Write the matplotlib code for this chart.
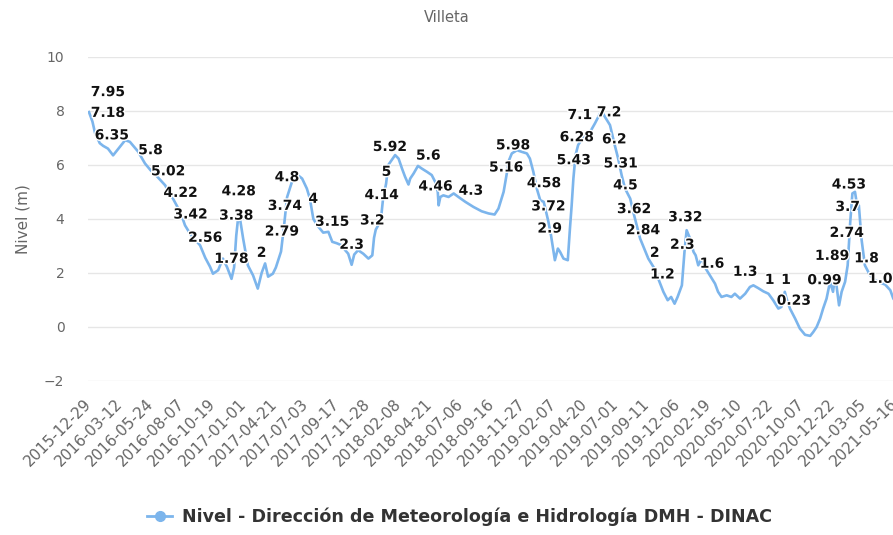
"""
Nivel del rio Paraguay en Villeta (DMH - DINAC), 2015-2021
"""

### Import modules
import matplotlib
matplotlib.use('Agg')
import matplotlib.pyplot as plt
import matplotlib.patheffects as pe
import matplotlib.transforms as mtrans
from matplotlib.lines import Line2D

### Tick labels (one every 72 records)
fechas = ['2015-12-29', '2016-03-12', '2016-05-24', '2016-08-07', '2016-10-19',
          '2017-01-01', '2017-04-21', '2017-07-03', '2017-09-17', '2017-11-28',
          '2018-02-08', '2018-04-21', '2018-07-06', '2018-09-16', '2018-11-27',
          '2019-02-07', '2019-04-20', '2019-07-01', '2019-09-11', '2019-12-06',
          '2020-02-19', '2020-05-10', '2020-07-22', '2020-10-07', '2020-12-22',
          '2021-03-05', '2021-05-16']
paso = 72
tick_idx = [i * paso for i in range(len(fechas))]

### Series: record index and level (m)
idx = [0, 8, 14, 25, 33, 44, 56, 72, 84, 95, 114, 130, 143, 158, 177, 184,
       195, 213, 223, 236, 258, 270, 281, 288, 300, 311, 321, 331, 337, 342,
       348, 358, 369, 381, 392, 401, 409, 416, 427, 434, 446, 453, 460, 471,
       485, 495, 506, 513, 521, 530, 544, 556, 565, 575, 587, 595, 602, 610,
       616, 625, 637, 649, 658, 662, 666, 673, 679, 683, 690, 695, 711, 719,
       727, 734, 742, 746, 754, 764, 773, 785, 796, 804, 810, 812, 816, 823,
       835, 847, 858, 874, 893, 912, 928, 942, 951, 963, 971, 974, 982, 994,
       1005, 1017, 1024, 1032, 1040, 1048, 1056, 1059, 1067, 1073, 1079, 1082,
       1089, 1094, 1102, 1112, 1117, 1121, 1125, 1130, 1136, 1148, 1164, 1175,
       1187, 1192, 1198, 1210, 1221, 1229, 1237, 1245, 1257, 1264, 1272, 1280,
       1288, 1299, 1311, 1322, 1334, 1344, 1352, 1360, 1367, 1377, 1383, 1388,
       1396, 1404, 1409, 1415, 1423, 1430, 1442, 1454, 1461, 1469, 1481, 1492,
       1500, 1512, 1524, 1535, 1543, 1554, 1566, 1578, 1589, 1601, 1608, 1616,
       1620, 1628, 1640, 1651, 1663, 1675, 1682, 1690, 1698, 1705, 1713, 1721,
       1728, 1733, 1742, 1748, 1756, 1762, 1768, 1773, 1779, 1785, 1788, 1794,
       1802, 1814, 1826, 1837, 1849, 1861, 1868, 1880]
nivel = [7.95, 7.6, 7.18, 6.8, 6.7, 6.6, 6.35, 6.67, 6.91, 6.85, 6.49, 6.05,
         5.8, 5.57, 5.24, 5.02, 4.75, 4.22, 3.76, 3.42, 3.02, 2.56, 2.23, 1.97,
         2.1, 2.53, 2.2, 1.78, 2.2, 3.38, 4.28, 3.27, 2.28, 1.91, 1.42, 2.0,
         2.35, 1.86, 1.97, 2.2, 2.79, 3.74, 4.8, 5.35, 5.62, 5.49, 5.12, 4.75,
         4.0, 3.76, 3.49, 3.52, 3.15, 3.1, 3.02, 2.84, 2.71, 2.3, 2.68, 2.84,
         2.71, 2.53, 2.65, 3.3, 3.6, 3.8, 4.14, 4.75, 5.3, 5.99, 6.36, 6.23,
         5.86, 5.56, 5.27, 5.49, 5.68, 5.96, 5.86, 5.74, 5.62, 5.37, 5.0, 4.5,
         4.81, 4.87, 4.81, 4.94, 4.81, 4.63, 4.44, 4.28, 4.2, 4.16, 4.38, 5.0,
         5.74, 6.11, 6.42, 6.54, 6.48, 6.42, 6.23, 5.74, 5.12, 4.69, 4.63, 4.44,
         3.89, 3.39, 2.78, 2.47, 2.9, 2.78, 2.53, 2.47, 3.64, 4.5, 5.49, 6.36,
         6.73, 7.04, 7.22, 7.53, 7.9, 7.96, 7.78, 7.47, 6.73, 6.23, 5.62, 5.12,
         4.75, 4.26, 3.76, 3.27, 2.96, 2.53, 2.22, 1.79, 1.3, 0.99, 1.11, 0.86,
         1.11, 1.54, 2.78, 3.58, 3.27, 2.78, 2.65, 2.28, 2.53, 2.22, 1.91, 1.6,
         1.3, 1.11, 1.17, 1.11, 1.23, 1.05, 1.23, 1.48, 1.54, 1.44, 1.32, 1.23,
         0.99, 0.68, 0.74, 1.3, 1.05, 0.68, 0.31, -0.06, -0.29, -0.33, -0.19,
         0.0, 0.31, 0.68, 1.05, 1.67, 1.3, 1.91, 0.8, 1.3, 1.67, 2.28, 3.89,
         4.94, 5.0, 4.38, 4.5, 3.27, 2.28, 1.91, 1.73, 1.64, 1.57, 1.36, 1.05,
         0.8]

### Data labels shown on the chart (record index, value)
etiq_idx = [0, 14, 53, 143, 184, 213, 236, 270, 331, 348, 342, 401, 448, 455,
            460, 521, 565, 610, 658, 680, 691, 699, 788, 805, 887, 969, 985,
            1057, 1067, 1070, 1126, 1133, 1140, 1208, 1220, 1235, 1246, 1266,
            1287, 1314, 1332, 1385, 1378, 1447, 1524, 1581, 1619, 1637, 1708,
            1726, 1765, 1762, 1760, 1806, 1849]
etiq_val = ['7.95', '7.18', '6.35', '5.8', '5.02', '4.22', '3.42', '2.56',
            '1.78', '4.28', '3.38', '2', '2.79', '3.74', '4.8', '4', '3.15',
            '2.3', '3.2', '4.14', '5', '5.92', '5.6', '4.46', '4.3', '5.16',
            '5.98', '4.58', '3.72', '2.9', '5.43', '6.28', '7.1', '7.2', '6.2',
            '5.31', '4.5', '3.62', '2.84', '2', '1.2', '3.32', '2.3', '1.6',
            '1.3', '1', '1', '0.23', '0.99', '1.89', '4.53', '3.7', '2.74',
            '1.8', '1.04']

###########################################################################
### Create plot
azul = '#7cb5ec'
gris = '#666666'

fig = plt.figure(figsize=(8.93, 5.35), dpi=100)
ax = fig.add_axes([88/893., 1-381/535., 832/893., 324.3/535.])

ax.plot(idx, nivel, color=azul, linewidth=1.9, zorder=3,
        solid_joinstyle='round')

ax.set_xlim(-2.3, 1930)
ax.set_ylim(-2, 10)
ax.set_yticks([-2, 0, 2, 4, 6, 8, 10])
ax.set_yticklabels(['\u22122', '0', '2', '4', '6', '8', '10'])
ax.set_xticks(tick_idx)
ax.set_xticklabels(fechas, rotation=45, ha='right', va='center',
                   rotation_mode='anchor')
shift = mtrans.ScaledTranslation(-6/72., 0, fig.dpi_scale_trans)
for lab in ax.get_xticklabels():
    lab.set_transform(lab.get_transform() + shift)

ax.grid(axis='y', color='#e6e6e6', linewidth=1.0, zorder=0)
ax.grid(axis='x', visible=False)
for s in ax.spines.values():
    s.set_visible(False)
ax.tick_params(axis='y', length=0, pad=17, labelsize=10, labelcolor=gris)
ax.tick_params(axis='x', length=0, pad=15, labelsize=11, labelcolor=gris)

ax.set_ylabel('Nivel (m)', fontsize=11, color=gris, labelpad=10)
fig.text(0.5, 1-18/535., 'Villeta', ha='center', va='center',
         fontsize=10.5, color=gris)

### Data labels
x0 = ax.get_xlim()[0]
for c, t in zip(etiq_idx, etiq_val):
    v = float(t)
    if c < 40:
        txt = ax.annotate(t, (x0, v), xytext=(2, 14.4),
                          textcoords='offset points', ha='left', va='center')
    else:
        txt = ax.annotate(t, (c, v), xytext=(0, 14.4),
                          textcoords='offset points', ha='center', va='center')
    txt.set_fontsize(10)
    txt.set_fontweight('bold')
    txt.set_color('#111111')
    txt.set_zorder(6)
    txt.set_path_effects([pe.withStroke(linewidth=2, foreground='white')])

### Legend
h = Line2D([], [], color=azul, linewidth=2, marker='o', markersize=7,
           markerfacecolor=azul, markeredgecolor=azul)
le = fig.legend([h], ['Nivel - Dirección de Meteorología e Hidrología DMH - DINAC'],
                loc='center', bbox_to_anchor=(0.515, 1-517/535.), frameon=False,
                handlelength=1.4, handletextpad=0.6, fontsize=12.6)
for text in le.get_texts():
    text.set_color('#333333')
    text.set_fontweight('bold')

plt.savefig('out.png', dpi=100)
